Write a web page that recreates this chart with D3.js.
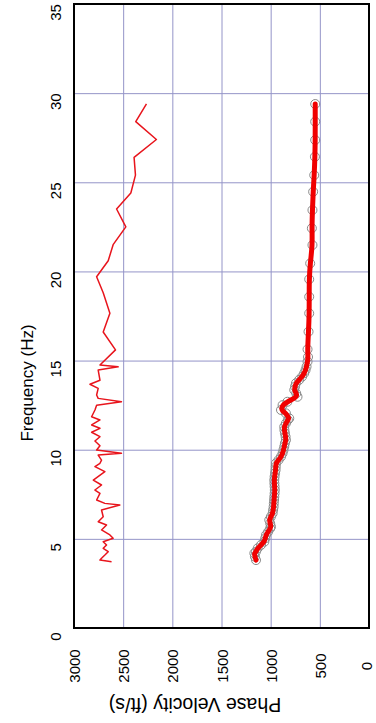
<!DOCTYPE html>
<html><head><meta charset="utf-8">
<script src="https://cdn.jsdelivr.net/npm/d3@7"></script>
<style>body{margin:0;background:#fff}svg{display:block}</style>
</head><body><svg id="c" width="376" height="723"></svg>
<script>
// Axis ticks
const freqTicks = [0, 5, 10, 15, 20, 25, 30, 35];
const velTicks = [3000, 2500, 2000, 1500, 1000, 500, 0];

// Thin red series (higher-mode / raw picks): frequency (Hz) and phase velocity (ft/s)
const thinFreq = [3.72,3.81,3.91,4.09,4.28,4.47,4.66,4.84,5.03,5.22,5.50,5.78,5.96,6.24,6.62,6.90,6.99,7.18,7.55,7.74,8.02,8.30,8.77,9.05,9.24,9.42,9.70,9.80,9.98,10.22,10.49,10.73,10.98,11.20,11.39,11.67,11.85,12.23,12.50,12.69,12.88,13.07,13.44,13.67,13.90,14.47,14.65,14.75,15.60,16.60,17.65,18.80,19.70,20.60,21.50,22.50,23.50,24.40,25.40,26.40,27.40,28.40,29.40];
const thinVel  = [2618,2736,2720,2686,2652,2703,2669,2703,2602,2635,2720,2669,2754,2703,2720,2534,2686,2770,2736,2787,2720,2804,2686,2787,2736,2720,2754,2517,2770,2736,2787,2736,2821,2736,2821,2736,2821,2787,2770,2517,2754,2770,2754,2838,2736,2754,2551,2736,2578,2703,2635,2703,2770,2652,2602,2473,2567,2422,2375,2389,2162,2372,2263];

// Fundamental mode (thick red with grey circle markers)
const fundFreq = [3.81,4.00,4.19,4.28,4.47,4.66,4.84,5.03,5.22,5.40,5.59,5.68,5.87,6.06,6.24,6.43,6.62,6.80,6.99,7.18,7.36,7.55,7.74,7.93,8.11,8.30,8.49,8.68,8.86,9.05,9.24,9.42,9.61,9.80,9.98,10.17,10.36,10.54,10.73,10.92,11.10,11.29,11.48,11.67,11.76,12.04,12.23,12.50,12.69,12.97,13.16,13.35,13.54,13.73,13.92,14.10,14.29,14.47,14.66,14.94,15.20,15.63,16.62,17.65,18.58,19.56,20.45,21.48,22.42,23.44,24.47,25.40,26.43,27.37,28.40,29.39];
const fundVel  = [1149,1160,1166,1150,1132,1098,1064,1055,1047,1025,1005,997,1005,1014,998,980,975,970,968,965,963,960,958,960,962,963,960,955,950,948,946,920,895,879,870,862,855,845,848,855,860,862,845,825,811,845,895,879,830,727,740,760,752,743,710,680,659,645,635,625,620,625,615,608,608,608,598,575,581,575,568,557,550,547,547,547];

const svg = d3.select("#c");
const L = 74, R = 369, T = 4, B = 628;
const x = d3.scaleLinear().domain([3000, 0]).range([L, R]);
const y = d3.scaleLinear().domain([0, 35]).range([B, T]);
const gridColor = "#9494c8";
const font = "Liberation Sans, Arial, sans-serif";

// Frequency axis (left) with horizontal gridlines
const gy = svg.append("g").attr("transform", `translate(${L},0)`)
  .call(d3.axisLeft(y).tickValues(freqTicks).tickSize(-(R - L)).tickFormat(d3.format("d")));
gy.select(".domain").remove();
gy.selectAll("line").attr("stroke", gridColor).attr("stroke-width", 1);
gy.selectAll("text").attr("x", null).attr("dy", null)
  .attr("transform", "translate(-19,8) rotate(-90)")
  .attr("text-anchor", "middle").attr("dominant-baseline", "central")
  .attr("font-family", font).attr("font-size", 15).attr("fill", "#000");

// Velocity axis (bottom) with vertical gridlines
const gx = svg.append("g").attr("transform", `translate(0,${B})`)
  .call(d3.axisBottom(x).tickValues(velTicks).tickSize(-(B - T)).tickFormat(d3.format("d")));
gx.select(".domain").remove();
gx.selectAll("line").attr("stroke", gridColor).attr("stroke-width", 1);
gx.selectAll("text").attr("y", null).attr("dy", null)
  .attr("transform", d => `translate(${d === 0 ? -3 : 0},38) rotate(-90)`)
  .attr("text-anchor", "middle").attr("dominant-baseline", "central")
  .attr("font-family", font).attr("font-size", 15).attr("fill", "#000");

// Thin series
const thin = thinFreq.map((f, i) => [f, thinVel[i]]);
svg.append("path").datum(thin)
  .attr("fill", "none").attr("stroke", "#e8141c").attr("stroke-width", 1.5)
  .attr("stroke-linejoin", "round")
  .attr("d", d3.line().x(d => x(d[1])).y(d => y(d[0])));

// Fundamental markers
const fund = fundFreq.map((f, i) => [f, fundVel[i]]);
svg.append("g").selectAll("circle").data(fund).join("circle")
  .attr("cx", d => x(d[1])).attr("cy", d => y(d[0])).attr("r", 4.5)
  .attr("fill", "none").attr("stroke", "#8a8a8a").attr("stroke-width", 1);

// Fundamental thick line
svg.append("path").datum(fund)
  .attr("fill", "none").attr("stroke", "#f00000").attr("stroke-width", 5)
  .attr("stroke-linejoin", "round").attr("stroke-linecap", "round")
  .attr("d", d3.line().curve(d3.curveBasis).x(d => x(d[1])).y(d => y(d[0])));

// Frame
svg.append("rect").attr("x", L).attr("y", T).attr("width", R - L).attr("height", B - T)
  .attr("fill", "none").attr("stroke", "#000").attr("stroke-width", 2);

// Axis titles
svg.append("text").attr("transform", `translate(27,383) rotate(-90)`)
  .attr("text-anchor", "middle").attr("dominant-baseline", "central")
  .attr("font-family", font).attr("font-size", 17).text("Frequency (Hz)");
svg.append("text").attr("transform", `translate(195,705) rotate(180)`)
  .attr("text-anchor", "middle").attr("dominant-baseline", "central")
  .attr("font-family", font).attr("font-size", 19.5).text("Phase Velocity (ft/s)");
</script>
</body></html>
